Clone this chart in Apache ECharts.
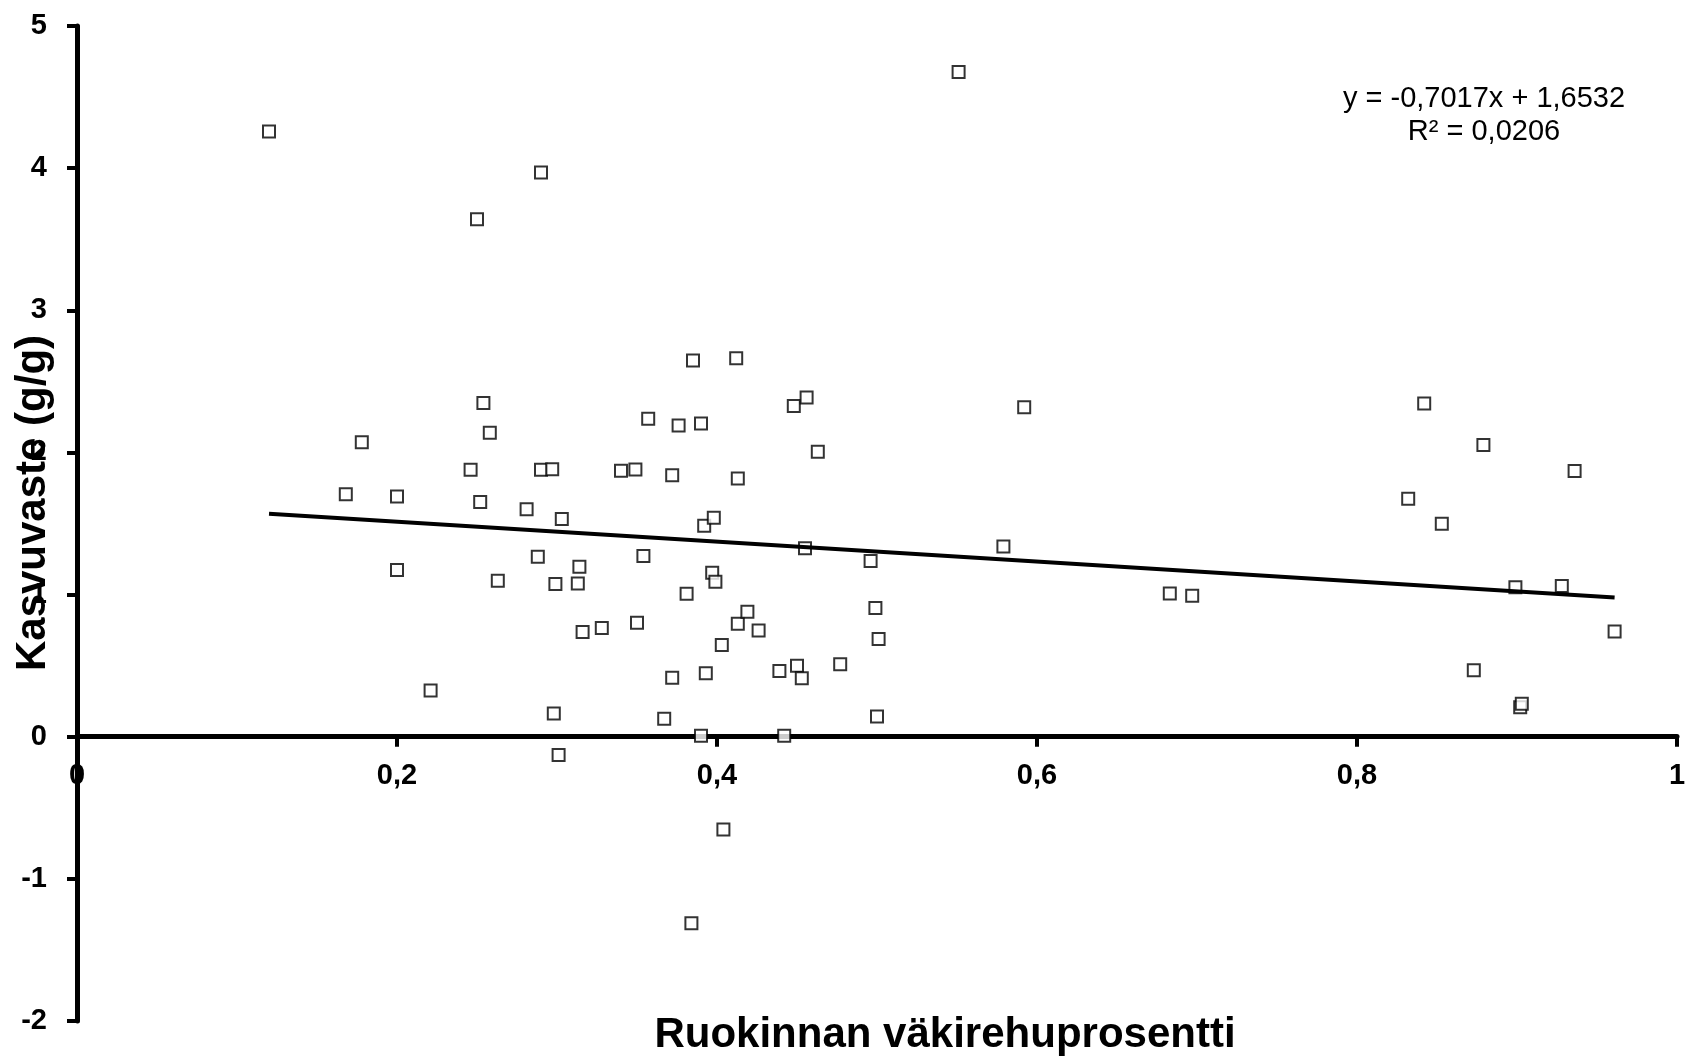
<!DOCTYPE html>
<html>
<head>
<meta charset="utf-8">
<title>Kasvuvaste ja väkirehuprosentti</title>
<script src="https://cdn.jsdelivr.net/npm/echarts@6/dist/echarts.min.js"></script>
<style>
  html, body { margin: 0; padding: 0; background: #ffffff; }
  #chart { width: 1689px; height: 1060px; }
</style>
</head>
<body>
<div id="chart"></div>
<script>
// Ruokinnan väkirehuprosentti (x) ja kasvuvaste g/g (y), yksi havainto per indeksi
const concentrateShare = [
  0.120, 0.250, 0.290, 0.551, 0.178, 0.168, 0.200, 0.200, 0.221, 0.246,
  0.254, 0.258, 0.252, 0.263, 0.281, 0.288, 0.290, 0.297, 0.303, 0.314,
  0.313, 0.299, 0.316, 0.328, 0.298, 0.301, 0.340, 0.349, 0.354, 0.350,
  0.357, 0.367, 0.372, 0.372, 0.376, 0.381, 0.385, 0.390, 0.390, 0.384,
  0.392, 0.393, 0.398, 0.397, 0.399, 0.403, 0.404, 0.412, 0.413, 0.413,
  0.419, 0.426, 0.442, 0.439, 0.448, 0.450, 0.453, 0.455, 0.456, 0.463,
  0.477, 0.496, 0.499, 0.501, 0.500, 0.579, 0.592, 0.683, 0.697, 0.832,
  0.842, 0.853, 0.879, 0.873, 0.899, 0.928, 0.936, 0.961, 0.902, 0.903
];
const growthResponse = [
  4.258, 3.640, 3.970, 4.677, 2.071, 1.706, 1.690, 1.173, 0.325, 1.879,
  2.347, 2.138, 1.652, 1.097, 1.600, 1.266, 1.879, 1.882, 1.532, 1.196,
  1.078, 1.074, 0.736, 0.764, 0.164, -0.128, 1.871, 1.880, 1.272, 0.802,
  2.237, 0.127, 1.840, 0.415, 2.190, 1.005, 2.646, 2.204, 0.007, -1.313,
  1.485, 0.447, 1.540, 1.153, 1.091, 0.646, -0.652, 2.662, 1.816, 0.794,
  0.880, 0.748, 0.007, 0.462, 2.326, 0.500, 0.411, 1.326, 2.387, 2.005,
  0.510, 1.236, 0.905, 0.687, 0.142, 1.338, 2.318, 1.007, 0.991, 1.674,
  2.345, 1.498, 2.053, 0.468, 1.051, 1.060, 1.870, 0.740, 0.207, 0.232
];

// Lineaarinen trendi: y = -0,7017x + 1,6532, R² = 0,0206
const trendSlope = -0.7017;
const trendIntercept = 1.6532;
const trendR2 = 0.0206;

const xTicks = { min: 0, max: 1, interval: 0.2 };
const yTicks = { min: -2, max: 5, interval: 1 };

const fi = v => String(v).replace('.', ',');
const fmtCoef = (v, d) => v.toFixed(d).replace('.', ',');

const points = concentrateShare.map((x, i) => [x, growthResponse[i]]);
const xMin = Math.min(...concentrateShare);
const xMax = Math.max(...concentrateShare);
const trendLine = [
  [xMin, trendSlope * xMin + trendIntercept],
  [xMax, trendSlope * xMax + trendIntercept]
];

const eqLine1 = 'y = ' + fmtCoef(trendSlope, 4) + 'x + ' + fmtCoef(trendIntercept, 4);
const eqLine2 = 'R² = ' + fmtCoef(trendR2, 4);

const FONT = '"Liberation Sans", Arial, sans-serif';

const W = 1689, H = 1060;
const gridBox = { left: 77, right: 12, top: 26, bottom: 39 };
const plotHeight = H - gridBox.top - gridBox.bottom;
// lift the x axis (line, ticks and labels) from the plot bottom up to y = 0
const xAxisLift = -plotHeight * (0 - yTicks.min) / (yTicks.max - yTicks.min);

const chart = echarts.init(document.getElementById('chart'), null, { renderer: 'canvas' });

chart.setOption({
  animation: false,
  backgroundColor: '#ffffff',
  grid: Object.assign({ containLabel: false, outerBoundsMode: 'none' }, gridBox),
  xAxis: {
    type: 'value',
    position: 'bottom',
    offset: xAxisLift,
    min: xTicks.min,
    max: xTicks.max,
    interval: xTicks.interval,
    axisLine: { onZero: false, lineStyle: { color: '#000', width: 5 } },
    axisTick: { show: true, inside: false, length: 10, lineStyle: { color: '#000', width: 4 } },
    axisLabel: {
      margin: 25,
      color: '#000',
      fontFamily: FONT,
      fontWeight: 'bold',
      fontSize: 29,
      formatter: v => fi(v)
    },
    splitLine: { show: false }
  },
  yAxis: {
    type: 'value',
    min: yTicks.min,
    max: yTicks.max,
    interval: yTicks.interval,
    axisLine: { onZero: false, lineStyle: { color: '#000', width: 5 } },
    axisTick: { show: true, inside: false, length: 10, lineStyle: { color: '#000', width: 4 } },
    axisLabel: {
      margin: 30,
      color: '#000',
      fontFamily: FONT,
      fontWeight: 'bold',
      fontSize: 29,
      formatter: v => fi(v)
    },
    splitLine: { show: false }
  },
  series: [
    {
      name: 'Havainnot',
      type: 'scatter',
      data: points,
      symbol: 'rect',
      symbolSize: 12,
      itemStyle: { color: '#ffffff', borderColor: '#000000', borderWidth: 2 },
      z: 2
    },
    {
      name: 'Trendi',
      type: 'line',
      data: trendLine,
      symbol: 'none',
      lineStyle: { color: '#000', width: 4 },
      z: 3
    }
  ],
  graphic: [
    {
      type: 'text',
      x: 1484, y: 99,
      style: { text: eqLine1, font: '29px ' + FONT, fill: '#000', textAlign: 'center', textVerticalAlign: 'middle' },
      z: 10
    },
    {
      type: 'text',
      x: 1484, y: 132,
      style: { text: eqLine2, font: '29px ' + FONT, fill: '#000', textAlign: 'center', textVerticalAlign: 'middle' },
      z: 10
    },
    {
      type: 'text',
      x: 33, y: 503,
      rotation: Math.PI / 2,
      style: { text: 'Kasvuvaste (g/g)', font: 'bold 42px ' + FONT, fill: '#000', textAlign: 'center', textVerticalAlign: 'middle' },
      z: 10
    },
    {
      type: 'text',
      x: 945, y: 1035,
      style: { text: 'Ruokinnan väkirehuprosentti', font: 'bold 42px ' + FONT, fill: '#000', textAlign: 'center', textVerticalAlign: 'middle' },
      z: 10
    }
  ]
});
</script>
</body>
</html>
